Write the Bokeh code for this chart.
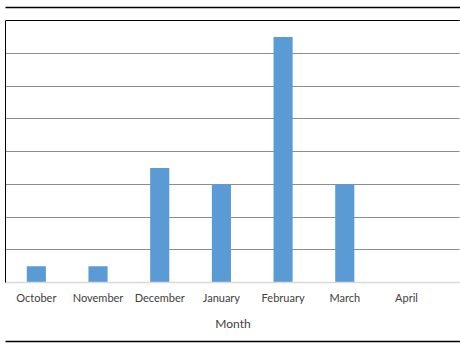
from bokeh.plotting import figure
from bokeh.models import (Range1d, LinearAxis, FixedTicker, ColumnDataSource)
from bokeh.embed import file_html
from bokeh.resources import INLINE

months = ["October", "November", "December", "January", "February",
          "March", "April", "May"]
counts = [1, 1, 7, 6, 15, 6, 0, 0]
y_ticks = [0, 2, 4, 6, 8, 10, 12, 14, 16]

x_idx = list(range(len(months)))
x_start, x_end = -0.5, 6.876
src = ColumnDataSource(dict(x=x_idx, top=counts, month=months))

p = figure(width=460, height=349, output_backend="svg", toolbar_location=None,
           x_range=Range1d(x_start, x_end), y_range=Range1d(0, 16),
           min_border_left=5, min_border_right=0, min_border_top=20,
           min_border_bottom=67, x_axis_label="Month")
p.background_fill_color = None
p.border_fill_color = None
p.outline_line_color = None

p.vbar(x="x", top="top", width=0.31, source=src, fill_color="#5B9BD5",
       line_color=None)

# grid
p.xgrid.visible = False
p.ygrid.ticker = FixedTicker(ticks=y_ticks[1:-1])
p.ygrid.grid_line_color = "#8c8c8c"
p.ygrid.grid_line_width = 1


def border_axis(line_color, line_width=1.5, gap=0, **kw):
    # axis used only as a border line; an invisible tick gives it depth
    return LinearAxis(ticker=FixedTicker(ticks=[x_start] if gap else []),
                      axis_line_color=line_color, axis_line_width=line_width,
                      major_tick_line_color="white", major_tick_line_width=1,
                      minor_tick_line_color=None,
                      major_tick_out=gap, major_tick_in=0,
                      major_label_standoff=0,
                      major_label_text_font_size="1px",
                      major_label_text_color=None, **kw)


# x axis
xa = p.xaxis[0]
xa.ticker = FixedTicker(ticks=x_idx)
xa.major_label_overrides = {i: m for i, m in enumerate(months)}
xa.axis_line_color = "#d9d9d9"
xa.axis_line_width = 1.5
xa.major_tick_line_color = None
xa.minor_tick_line_color = None
xa.major_tick_out = 0
xa.major_tick_in = 0
xa.major_label_standoff = 8
xa.major_label_text_font = "Lato"
xa.major_label_text_font_size = "11px"
xa.major_label_text_color = "#404040"
xa.axis_label_text_font = "Lato"
xa.axis_label_text_font_size = "12px"
xa.axis_label_text_font_style = "normal"
xa.axis_label_text_color = "#404040"
xa.axis_label_standoff = 9

# y axis: line only (its labels fall outside the crop)
ya = p.yaxis[0]
ya.ticker = FixedTicker(ticks=[])
ya.axis_line_color = "black"
ya.major_tick_line_color = None
ya.minor_tick_line_color = None
ya.major_tick_out = 0
ya.major_tick_in = 0
ya.major_label_standoff = 0

# plot-area top line, then the outer chart border line above it
p.add_layout(border_axis("black", line_width=1, gap=13), "above")
p.add_layout(border_axis("black"), "above")

# outer chart border line below the axis title
p.add_layout(border_axis(None, gap=8), "below")
p.add_layout(border_axis("black"), "below")

# hide the frame's right edge
p.add_layout(LinearAxis(ticker=FixedTicker(ticks=[]), axis_line_color="white",
                        axis_line_width=2, major_tick_line_color=None,
                        minor_tick_line_color=None, major_tick_out=0,
                        major_tick_in=0, major_label_standoff=0), "right")

open("out.html", "w").write(file_html(p, INLINE))
